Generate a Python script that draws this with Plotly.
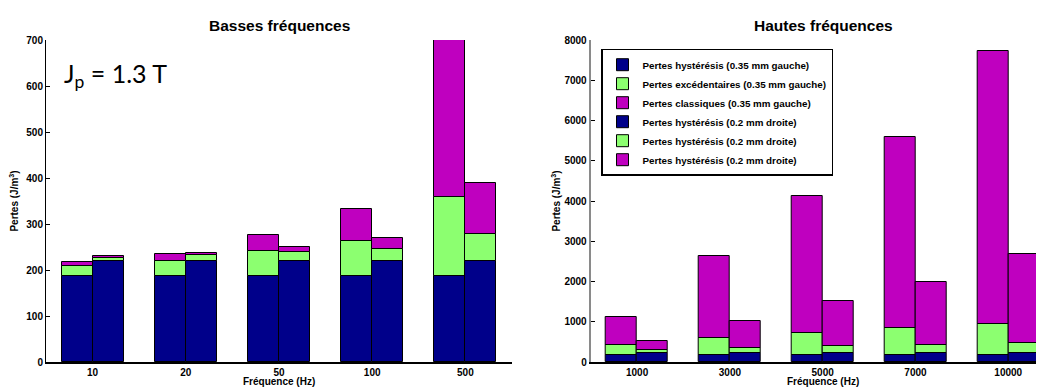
import plotly.graph_objects as go

# ---------------- data ----------------
low_freqs = ["10", "20", "50", "100", "500"]
high_freqs = ["1000", "3000", "5000", "7000", "10000"]

# Basses fréquences (J/m^3)
low_hyst_035 = [186, 186, 186, 186, 186]
low_exc_035 = [23, 34, 56, 78, 173]
low_class_035 = [9, 15, 34, 68, 340]
low_hyst_02 = [220, 220, 220, 220, 220]
low_exc_02 = [7, 12, 19, 26, 59]
low_class_02 = [4, 6, 11, 23, 110]

# Hautes fréquences (J/m^3)
high_hyst_035 = [186, 186, 186, 186, 186]
high_exc_035 = [236, 417, 541, 648, 764]
high_class_035 = [695, 2042, 3400, 4756, 6782]
high_hyst_02 = [220, 220, 220, 220, 220]
high_exc_02 = [68, 135, 184, 209, 251]
high_class_02 = [233, 662, 1100, 1556, 2224]

legend_names = [
    "Pertes hystérésis (0.35 mm gauche)",
    "Pertes excédentaires (0.35 mm gauche)",
    "Pertes classiques (0.35 mm gauche)",
    "Pertes hystérésis (0.2 mm droite)",
    "Pertes hystérésis (0.2 mm droite)",
    "Pertes hystérésis (0.2 mm droite)",
]

NAVY = "#00008a"
GREEN = "#8cff70"
MAGENTA = "#bf00bf"
colors = [NAVY, GREEN, MAGENTA, NAVY, GREEN, MAGENTA]

FONT = "Liberation Sans, Arial, sans-serif"
OFF = 8                      # default page body margin
W, H = 1044 - OFF, 387 - OFF
TOP, BOT = 40 - OFF, 362 - OFF   # plot area top / bottom (figure px)
PH = BOT - TOP


def px_x(xr):
    return (xr - OFF) / W


def px_y(yr):
    return (BOT - (yr - OFF)) / PH


fig = go.Figure()


def add_group(series, xaxis, yaxis, showlegend):
    pos = [1, 2, 3, 4, 5]
    for k, vals in enumerate(series):
        off = -1 / 6 if k < 3 else 1 / 6
        fig.add_trace(go.Bar(
            x=[p + off for p in pos], y=vals, width=1 / 3,
            name=legend_names[k],
            marker=dict(color=colors[k], line=dict(color="black", width=1)),
            xaxis=xaxis, yaxis=yaxis, showlegend=showlegend,
        ))


add_group([low_hyst_035, low_exc_035, low_class_035, low_hyst_02, low_exc_02, low_class_02],
          "x", "y", False)
add_group([high_hyst_035, high_exc_035, high_class_035, high_hyst_02, high_exc_02, high_class_02],
          "x2", "y2", True)

tickfont = dict(family=FONT, size=10, color="black", weight="bold")
titlefont = dict(family=FONT, size=10, color="black", weight="bold")

common_x = dict(tickmode="array", tickvals=[1, 2, 3, 4, 5], ticks="", showgrid=False,
                zeroline=False, showline=True, linecolor="black", linewidth=1.5,
                tickfont=tickfont)
common_y = dict(ticks="inside", ticklen=4, tickcolor="black", showgrid=False, zeroline=False,
                showline=True, tickfont=tickfont)

fig.update_layout(
    width=W, height=H,
    margin=dict(l=0, r=0, t=TOP, b=H - BOT),
    paper_bgcolor="white", plot_bgcolor="white",
    barmode="relative", bargap=0,
    font=dict(family=FONT, color="black"),
    xaxis=dict(domain=[px_x(46), px_x(512)], range=[0.5, 5.5], ticktext=low_freqs,
               anchor="y", **common_x),
    yaxis=dict(domain=[0, 1], range=[0, 700], dtick=100, linecolor="black", linewidth=1,
               anchor="x", title=dict(text="Pertes (J/m<sup>3</sup>)", font=titlefont, standoff=6),
               **common_y),
    xaxis2=dict(domain=[px_x(590.7), px_x(1041)], range=[0.5, 5.353], ticktext=high_freqs,
                anchor="y2", **common_x),
    yaxis2=dict(domain=[0, 1], range=[0, 8000], dtick=1000, linecolor="#8a8a8a", linewidth=2,
                anchor="x2", title=dict(text="Pertes (J/m<sup>3</sup>)", font=titlefont, standoff=2),
                **common_y),
    legend=dict(
        x=px_x(601), y=px_y(48.7), xanchor="left", yanchor="top",
        bgcolor="white", bordercolor="black", borderwidth=1.5,
        font=dict(family=FONT, size=9.8, color="black", weight="bold"),
        traceorder="normal", tracegroupgap=0, itemwidth=30,
    ),
    annotations=[
        dict(text="<b>Basses fréquences</b>", x=px_x(279), y=px_y(25), xref="paper", yref="paper",
             showarrow=False, font=dict(family=FONT, size=15.5, color="black"),
             xanchor="center", yanchor="middle"),
        dict(text="<b>Hautes fréquences</b>", x=px_x(823), y=px_y(25), xref="paper", yref="paper",
             showarrow=False, font=dict(family=FONT, size=15.5, color="black"),
             xanchor="center", yanchor="middle"),
        dict(text="J<sub>p</sub> = 1.3 T", x=px_x(62), y=px_y(75), xref="paper", yref="paper",
             showarrow=False, font=dict(family="Lato, Open Sans, sans-serif", size=25, color="black"),
             xanchor="left", yanchor="middle"),
        dict(text="<b>Fréquence (Hz)</b>", x=px_x(279), y=px_y(381), xref="paper", yref="paper",
             showarrow=False, font=dict(family=FONT, size=10, color="black"),
             xanchor="center", yanchor="middle"),
        dict(text="<b>Fréquence (Hz)</b>", x=px_x(823), y=px_y(381), xref="paper", yref="paper",
             showarrow=False, font=dict(family=FONT, size=10, color="black"),
             xanchor="center", yanchor="middle"),
    ],
)

fig.write_html("out.html")
